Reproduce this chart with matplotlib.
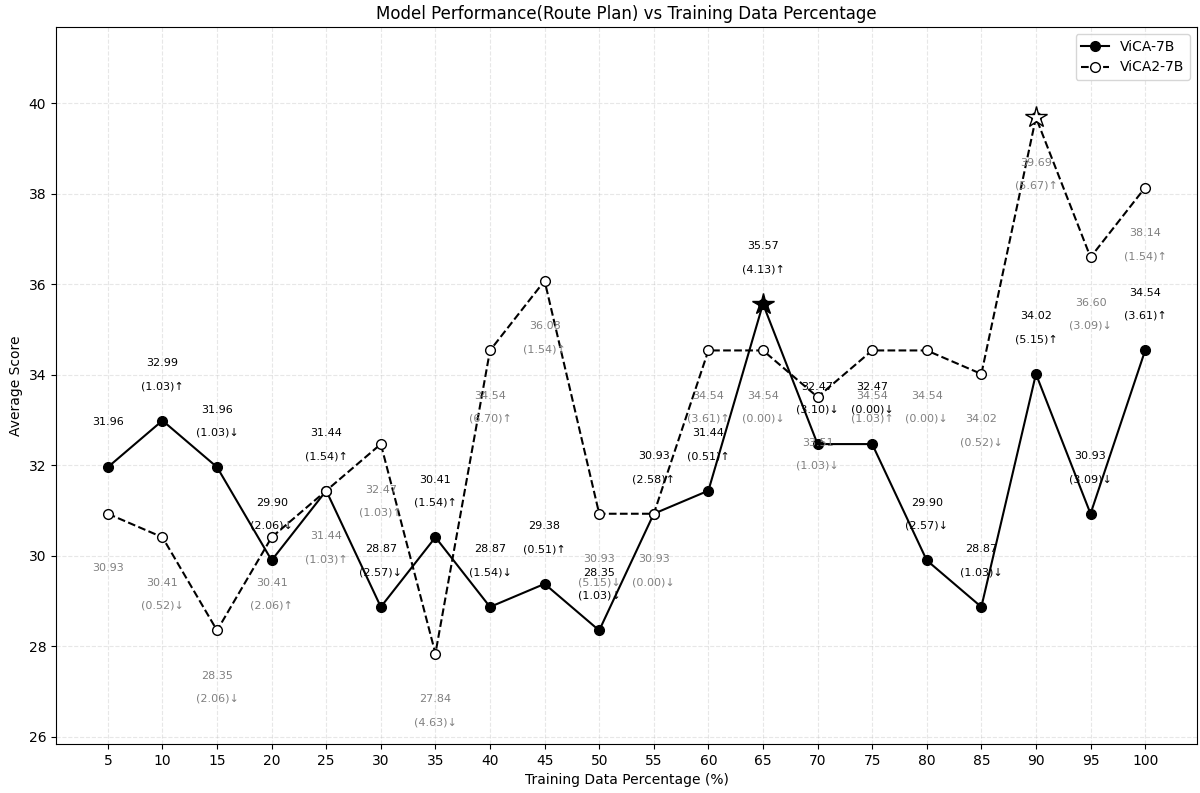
import matplotlib
matplotlib.use("Agg")
import matplotlib.pyplot as plt
import numpy as np

percentages = [5, 10, 15, 20, 25, 30, 35, 40, 45, 50, 55, 60, 65, 70, 75, 80, 85, 90, 95, 100]
vica_scores = [31.96, 32.99, 31.96, 29.90, 31.44, 28.87, 30.41, 28.87, 29.38, 28.35,
               30.93, 31.44, 35.57, 32.47, 32.47, 29.90, 28.87, 34.02, 30.93, 34.54]
vica2_scores = [30.93, 30.41, 28.35, 30.41, 31.44, 32.47, 27.84, 34.54, 36.08, 30.93,
                30.93, 34.54, 34.54, 33.51, 34.54, 34.54, 34.02, 39.69, 36.60, 38.14]
series_names = ["ViCA-7B", "ViCA2-7B"]

fig = plt.figure(figsize=(12, 7.93), dpi=100)
ax = fig.add_axes([56/1200, 1-744/793, (1197-56)/1200, (744-27)/793])

ax.plot(percentages, vica_scores, color="black", linestyle="-", linewidth=1.5,
        marker="o", markersize=7, markerfacecolor="black", markeredgecolor="black",
        label=series_names[0], zorder=3)
ax.plot(percentages, vica2_scores, color="black", linestyle="--", linewidth=1.5,
        marker="o", markersize=7, markerfacecolor="white", markeredgecolor="black",
        label=series_names[1], zorder=3)

# star markers at maxima
i1 = int(np.argmax(vica_scores))
i2 = int(np.argmax(vica2_scores))
ax.plot([percentages[i1]], [vica_scores[i1]], marker="*", markersize=16,
        color="black", markeredgecolor="black", linestyle="none", zorder=4)
ax.plot([percentages[i2]], [vica2_scores[i2]], marker="*", markersize=16,
        markerfacecolor="white", markeredgecolor="black", linestyle="none", zorder=4)

PT = 0.72  # px -> points at 100 dpi

def annotate(vals, sign, color):
    for i, (x, y) in enumerate(zip(percentages, vals)):
        if i == 0:
            off = [(f"{y:.2f}", 45 if sign > 0 else -54)]
        else:
            d = y - vals[i - 1]
            arrow = "↑" if d > 0 else "↓"
            dtxt = f"({abs(d):.2f}){arrow}"
            if sign > 0:
                off = [(f"{y:.2f}", 57.5), (dtxt, 34.5)]
            else:
                off = [(f"{y:.2f}", -45.5), (dtxt, -68.5)]
        for txt, o in off:
            ax.annotate(txt, (x, y), xytext=(0, o * PT), textcoords="offset points",
                        ha="center", va="center", fontsize=8, color=color, zorder=5)

annotate(vica_scores, 1, "black")
annotate(vica2_scores, -1, "gray")

ax.set_xticks(percentages)
ax.set_xticklabels([str(p) for p in percentages])
ax.set_ylim(min(vica_scores + vica2_scores) - 2, max(vica_scores + vica2_scores) + 2)
ax.set_xlim(0.25, 104.75)
ax.grid(True, linestyle="--", alpha=0.3)
ax.set_xlabel("Training Data Percentage (%)", fontsize=10)
ax.set_ylabel("Average Score", fontsize=10)
ax.set_title("Model Performance(Route Plan) vs Training Data Percentage", fontsize=12)
ax.legend(loc="upper right", fontsize=10)

fig.savefig("out.png", dpi=100)
